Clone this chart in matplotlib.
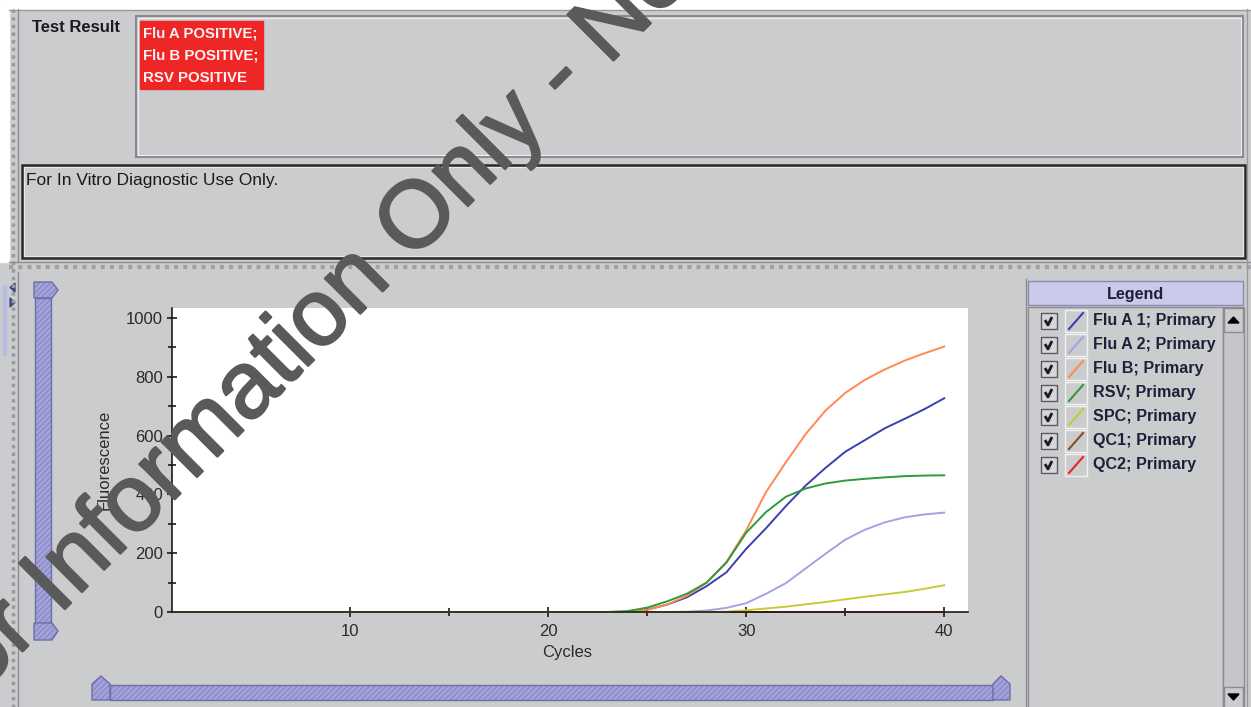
import matplotlib
matplotlib.use("Agg")
import matplotlib.patheffects as pe
import matplotlib.pyplot as plt
from matplotlib.patches import Polygon, Rectangle

plt.rcParams["font.family"] = ["Liberation Sans", "DejaVu Sans"]

# fluorescence read per cycle off the screenshot
cycles = list(range(1, 41))
flu_a1 = [0, 0, 0, 0, 0, 0, 0, 0, 0, 0, 0, 0, 0, 0, 0, 0, 0, 0, 0, 0,
          0, 0, 0, 0, 8, 25, 50, 88, 135, 215, 285, 360, 430, 490, 545, 585,
          625, 657, 690, 727]
flu_a2 = [0, 0, 0, 0, 0, 0, 0, 0, 0, 0, 0, 0, 0, 0, 0, 0, 0, 0, 0, 0,
          0, 0, 0, 0, 0, 0, 1, 5, 14, 30, 62, 98, 148, 198, 246, 280,
          305, 322, 332, 338]
flu_b = [0, 0, 0, 0, 0, 0, 0, 0, 0, 0, 0, 0, 0, 0, 0, 0, 0, 0, 0, 0,
         0, 0, 0, 1, 8, 25, 55, 100, 170, 278, 408, 509, 605, 685, 745, 790,
         825, 855, 880, 903]
rsv = [0, 0, 0, 0, 0, 0, 0, 0, 0, 0, 0, 0, 0, 0, 0, 0, 0, 0, 0, 0,
       0, 0, 0, 3, 15, 36, 62, 100, 168, 270, 340, 392, 420, 437, 447, 453,
       458, 462, 464, 465]
spc = [0, 0, 0, 0, 0, 0, 0, 0, 0, 0, 0, 0, 0, 0, 0, 0, 0, 0, 0, 0,
       0, 0, 0, 0, 0, 0, 0, 0, 1, 6, 12, 18, 26, 34, 43, 52,
       60, 68, 79, 91]
qc1 = [0, 0, 0, 0, 0, 0, 0, 0, 0, 0, 0, 0, 0, 0, 0, 0, 0, 0, 0, 0,
       0, 0, 0, 0, 0, 0, 0, 0, 0, 0, 0, 0, 0, 0, 0, 0, 0, 0, 0, 0]
qc2 = [0, 0, 0, 0, 0, 0, 0, 0, 0, 0, 0, 0, 0, 0, 0, 0, 0, 0, 0, 0,
       0, 0, 0, 0, 0, 0, 0, 0, 0, 0, 0, 0, 0, 0, 0, 0, 0, 0, 0, 0]

series_names = ["Flu A 1; Primary", "Flu A 2; Primary", "Flu B; Primary",
                "RSV; Primary", "SPC; Primary", "QC1; Primary", "QC2; Primary"]
series_colors = ["#3c3fae", "#a4a2e2", "#ff8a50", "#2f9a3c", "#c9c934",
                 "#8b4c22", "#ea2424"]
result_lines = ["Flu A POSITIVE;", "Flu B POSITIVE;", "RSV POSITIVE"]
x_ticks = [10, 20, 30, 40]
y_ticks = [0, 200, 400, 600, 800, 1000]

W, H = 1251, 707
PANEL = "#cbccce"
LAV = "#a4a4da"
LAV_EDGE = "#6e6ea8"

fig = plt.figure(figsize=(W / 100, H / 100), dpi=100)

# whole window drawn in pixel coords (y down)
bg = fig.add_axes([0, 0, 1, 1])
bg.set_xlim(0, W)
bg.set_ylim(H, 0)
bg.axis("off")
bg.add_patch(Rectangle((0, 0), W, H, color=PANEL))
bg.add_patch(Rectangle((0, 0), W, 9, color="white"))
bg.add_patch(Rectangle((0, 0), 9, 262, color="white"))


def hatched(patch_cls, *args):
    # lavender slider piece: hatched fill + darker outline
    bg.add_patch(patch_cls(*args, fc=LAV, ec="#8a8ac6", lw=0, hatch="//////"))
    bg.add_patch(patch_cls(*args, fill=False, ec=LAV_EDGE, lw=1))


# split pane dividers
bg.plot([13, 13], [9, H], color="#9a9a9e", lw=2.5, ls=(0, (1, 1.2)))
bg.plot([18, 18], [9, 262], color="#8c8c90", lw=1)
bg.plot([9, W], [10, 10], color="#9a9a9e", lw=1)
bg.plot([9, W], [262, 262], color="#8c8c90", lw=1)
bg.plot([9, W], [267, 267], color="#a2a2a6", lw=3, ls=(0, (1, 1.2)))
bg.plot([18, 18], [272, H], color="#8c8c90", lw=1)
bg.plot([1247, 1247], [9, H], color="#9a9a9e", lw=1)

# test result box
bg.add_patch(Rectangle((136, 16), 1107, 141, fill=False, ec="#8a8a8e", lw=1.5))
bg.add_patch(Rectangle((138, 18), 1103, 137, fill=False, ec="#f0f0f0", lw=0.8))
bg.text(32, 28, "Test Result", fontsize=12, fontweight="bold", color="#1a1a24",
        va="center", ha="left")
bg.add_patch(Rectangle((140, 21), 123, 68, color="#ee2626"))
for i, line in enumerate(result_lines):
    bg.text(143, 33 + 22.5 * i, line, fontsize=10.8, fontweight="bold",
            color="#fff2f4", va="center", ha="left")

# disclaimer box
bg.add_patch(Rectangle((22, 165), 1223, 93, fill=False, ec="#2a2a2a", lw=1.8))
bg.add_patch(Rectangle((24, 167), 1219, 89, fill=False, ec="#eeeeee", lw=0.6))
bg.text(26, 180, "For In Vitro Diagnostic Use Only.", fontsize=12.5,
        color="#1a1a1a", va="center", ha="left")

# little arrows at the left edge of the lower pane
bg.add_patch(Polygon([(15, 283), (15, 292), (10, 287.5)], color="#3d4a80"))
bg.add_patch(Polygon([(10, 298), (10, 307), (15, 302.5)], color="#3d4a80"))
bg.add_patch(Rectangle((3, 285), 3, 70, color="#b8bce0"))

# vertical slider
hatched(Rectangle, (35, 298), 16, 325)
hatched(Polygon, [(34, 282), (52, 282), (58, 290), (52, 298), (34, 298)])
hatched(Polygon, [(34, 623), (52, 623), (58, 631), (52, 640), (34, 640)])

# horizontal slider
hatched(Rectangle, (110, 685), 883, 15)
hatched(Polygon, [(92, 700), (92, 684), (101, 676), (110, 684), (110, 700)])
hatched(Polygon, [(993, 700), (993, 684), (1001, 676), (1010, 684),
                  (1010, 700)])

# legend panel
bg.plot([1026, 1026], [279, H], color="#8c8c90", lw=1)
bg.add_patch(Rectangle((1028, 281), 215, 24, fc="#cacaea", ec="#8a8ab4", lw=1))
bg.text(1136, 294, "Legend", fontsize=11.6, fontweight="bold", color="#20203a",
        ha="center", va="center")
bg.add_patch(Rectangle((1028, 307), 195, 410, fill=False, ec="#8c8c90", lw=1))
bg.add_patch(Rectangle((1223, 307), 21, 410, fc="#c4c5c8", ec="#8c8c90", lw=1))
bg.add_patch(Rectangle((1224, 308), 19, 24, fc=PANEL, ec="#8c8c90", lw=1))
bg.add_patch(Polygon([(1228, 323), (1239, 323), (1233.5, 317)], color="black"))
bg.add_patch(Rectangle((1224, 687), 19, 22, fc=PANEL, ec="#8c8c90", lw=1))
bg.add_patch(Polygon([(1228, 694), (1239, 694), (1233.5, 700)], color="black"))

for i, (name, col) in enumerate(zip(series_names, series_colors)):
    yc = 321 + 24 * i
    bg.add_patch(Rectangle((1041, yc - 8), 16, 16, fc="#d6d6da", ec="#5c5c60",
                           lw=1))
    bg.plot([1045, 1048, 1052], [yc - 1, yc + 4, yc - 4], color="#1a1a1a",
            lw=2, solid_capstyle="butt")
    bg.add_patch(Rectangle((1065, yc - 11), 22, 22, fc=PANEL, ec="#f2f2f2",
                           lw=1))
    bg.plot([1069, 1083], [yc + 8, yc - 8], color=col, lw=1.5)
    bg.text(1093, yc, name, fontsize=11.6, fontweight="bold", color="#20203a",
            ha="left", va="center")

# the amplification chart
ax = fig.add_axes([172 / W, 1 - 612 / H, (968 - 172) / W, (612 - 308) / H])
ax.set_facecolor("white")
series = [qc1, qc2, flu_a1, flu_a2, flu_b, rsv, spc]
colors = [series_colors[5], series_colors[6], series_colors[0],
          series_colors[1], series_colors[2], series_colors[3],
          series_colors[4]]
for vals, col in zip(series, colors):
    ax.plot(cycles, vals, color=col, lw=1.4, clip_on=False)

ax.set_xlim(1, 41.2)
ax.set_ylim(0, 1034)
ax.set_xticks(x_ticks)
ax.set_xticks([15, 25, 35], minor=True)
ax.set_yticks(y_ticks)
ax.set_yticks([100, 300, 500, 700, 900], minor=True)
for s in ["top", "right"]:
    ax.spines[s].set_visible(False)
for s in ["left", "bottom"]:
    ax.spines[s].set_color("#1a1a1a")
    ax.spines[s].set_linewidth(1.2)
ax.tick_params(which="major", direction="inout", length=7, width=1.2,
               color="#1a1a1a", labelsize=12, labelcolor="#2a2a2a", pad=3)
ax.tick_params(which="minor", direction="inout", length=6, width=1.2,
               color="#1a1a1a")
ax.tick_params(axis="x", which="major", pad=5)
ax.set_xlabel("Cycles", fontsize=12, color="#2a2a2a")
ax.set_ylabel("Fluorescence", fontsize=12, color="#2a2a2a")
ax.xaxis.set_label_coords(0.496, -0.108)
ax.yaxis.set_label_coords(-0.076, 0.5)

# watermark across the screenshot
wm = fig.text(-60 / W, 1 - 734 / H, "For Information Only - Not", fontsize=68,
              color="#5a5a5a", rotation=45, rotation_mode="anchor",
              ha="left", va="baseline", zorder=10)
wm.set_path_effects([pe.withStroke(linewidth=1.6, foreground="#5a5a5a")])

fig.savefig("out.png", dpi=100)
